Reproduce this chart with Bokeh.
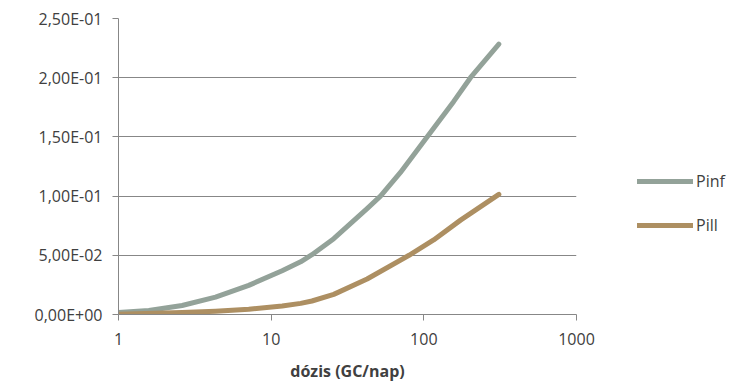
from bokeh.plotting import figure
from bokeh.models import (FixedTicker, CustomJSTickFormatter, Legend, LegendItem, Range1d)
from bokeh.embed import file_html
from bokeh.resources import INLINE

# data
pinf_x = [1, 1.58, 2.61, 4.32, 7.13, 11.8, 15.6, 18.5, 25.7, 42.5, 52, 70.3, 105, 157, 202, 310]
pinf_y = [0.0017, 0.0034, 0.0076, 0.0147, 0.0246, 0.037, 0.0445, 0.0505, 0.064, 0.0895, 0.100, 0.120,
          0.150, 0.180, 0.200, 0.2283]
pill_x = [1, 2.61, 4.32, 7.13, 11.8, 15.6, 18.5, 25.7, 42.5, 80, 116, 174, 310]
pill_y = [0.0003, 0.0017, 0.0028, 0.0045, 0.0072, 0.0094, 0.0114, 0.017, 0.030, 0.050, 0.063, 0.0797, 0.1015]
y_ticks = [0.0, 0.05, 0.10, 0.15, 0.20, 0.25]
x_ticks = [1, 10, 100, 1000]
x_title = "dózis (GC/nap)"
series_names = ["Pinf", "Pill"]

FONT = "Open Sans"
TXT = "#404040"
AX = "#878787"

p = figure(width=740, height=388, frame_width=458, frame_height=296,
           x_axis_type="log", x_range=Range1d(1, 1000), y_range=Range1d(0, 0.25),
           output_backend="svg", toolbar_location=None,
           min_border_left=118, min_border_right=164, min_border_top=18, min_border_bottom=74)
p.outline_line_color = None
p.background_fill_color = "white"
p.border_fill_color = "white"

r1 = p.line(pinf_x, pinf_y, line_color="#93A299", line_width=5, line_join="round", line_cap="round")
r2 = p.line(pill_x, pill_y, line_color="#AD8F62", line_width=5, line_join="round", line_cap="round")

p.xgrid.grid_line_color = None
p.ygrid.grid_line_color = AX
p.ygrid.grid_line_width = 1
p.ygrid.ticker = FixedTicker(ticks=y_ticks)

p.yaxis.ticker = FixedTicker(ticks=y_ticks)
p.yaxis.formatter = CustomJSTickFormatter(code="""
var s = tick.toExponential(2); var parts = s.split('e');
var e = parseInt(parts[1]); var a = Math.abs(e);
return parts[0].replace('.', ',') + 'E' + (e < 0 ? '-' : '+') + (a < 10 ? '0' : '') + a;
""")
p.xaxis.ticker = FixedTicker(ticks=x_ticks)
p.xaxis.formatter = CustomJSTickFormatter(code="return tick.toFixed(0);")

for ax in (p.xaxis[0], p.yaxis[0]):
    ax.axis_line_color = AX
    ax.major_tick_line_color = AX
    ax.major_tick_in = 0
    ax.major_tick_out = 6
    ax.minor_tick_line_color = None
    ax.major_label_text_font = FONT
    ax.major_label_text_font_size = "16px"
    ax.major_label_text_color = TXT

p.yaxis.major_label_standoff = 10
p.xaxis.major_label_standoff = 12
p.xaxis.axis_label = x_title
p.xaxis.axis_label_text_font = FONT
p.xaxis.axis_label_text_font_size = "16px"
p.xaxis.axis_label_text_font_style = "bold"
p.xaxis.axis_label_text_color = TXT
p.xaxis.axis_label_standoff = 12

legend = Legend(items=[LegendItem(label=series_names[0], renderers=[r1]),
                       LegendItem(label=series_names[1], renderers=[r2])],
                location=(61, 78), orientation="vertical",
                glyph_width=56, glyph_height=20, label_height=20, spacing=22,
                padding=0, margin=0, label_standoff=3,
                border_line_color=None, background_fill_alpha=0,
                label_text_font=FONT, label_text_font_size="16px", label_text_color=TXT)
p.add_layout(legend, "right")

open("out.html", "w").write(file_html(p, INLINE))
